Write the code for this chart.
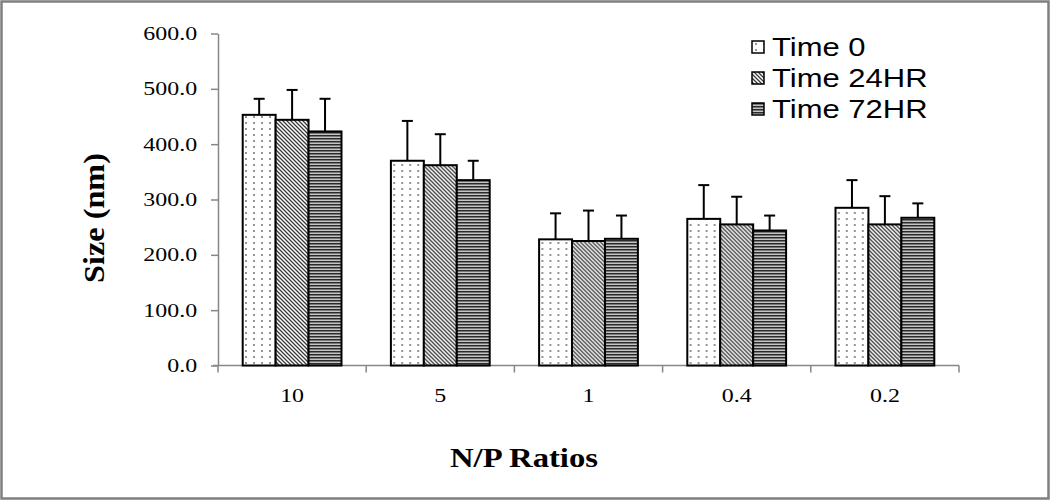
<!DOCTYPE html>
<html>
<head>
<meta charset="utf-8">
<script src="https://cdn.jsdelivr.net/npm/d3@7"></script>
<style>
  body { margin: 0; background: #fff; }
  svg { display: block; }
</style>
</head>
<body>
<script>
// Data
const ratios = ['10', '5', '1', '0.4', '0.2'];
const series = ['Time 0', 'Time 24HR', 'Time 72HR'];
const time0 = [453, 370, 228, 265, 285];
const time24 = [444, 362, 225, 255, 255];
const time72 = [423, 335, 229, 244, 267];
const err0 = [29, 72, 47, 61, 50];
const err24 = [54, 56, 55, 50, 51];
const err72 = [59, 35, 42, 27, 26];
const yTicks = [0, 100, 200, 300, 400, 500, 600];

const means = [time0, time24, time72];
const errs = [err0, err24, err72];
const fills = ['url(#dots)', 'url(#diag)', 'url(#hstripe)'];

const w = 1050;
const h = 500;
const sx = 1.26; // the original picture is stretched sideways
const axisColor = '#878787';

const x0 = d3
  .scaleBand()
  .domain(ratios)
  .range([218, 959]);

const x1 = d3
  .scaleBand()
  .domain(series)
  .range([0, x0.bandwidth()])
  .paddingInner(0)
  .paddingOuter(0.75);

const y = d3
  .scaleLinear()
  .domain([0, 600])
  .range([365.5, 33.5]);

const svg = d3
  .select('body')
  .append('svg')
  .attr('width', w)
  .attr('height', h);

// Fill patterns
const defs = svg.append('defs');

const dots = defs
  .append('pattern')
  .attr('id', 'dots')
  .attr('patternUnits', 'userSpaceOnUse')
  .attr('width', 8)
  .attr('height', 6);
dots.append('rect').attr('width', 8).attr('height', 6).attr('fill', '#fff');
dots
  .append('circle')
  .attr('cx', 4)
  .attr('cy', 3)
  .attr('r', 1)
  .attr('fill', '#707070');

const diag = defs
  .append('pattern')
  .attr('id', 'diag')
  .attr('patternUnits', 'userSpaceOnUse')
  .attr('width', 4)
  .attr('height', 4);
diag.append('rect').attr('width', 4).attr('height', 4).attr('fill', '#fff');
diag
  .append('path')
  .attr('d', 'M-1,-1L5,5M-1,3L1,5M3,-1L5,1')
  .attr('stroke', '#3a3a3a')
  .attr('stroke-width', 1.3);

const hstripe = defs
  .append('pattern')
  .attr('id', 'hstripe')
  .attr('patternUnits', 'userSpaceOnUse')
  .attr('width', 6)
  .attr('height', 3);
hstripe.append('rect').attr('width', 6).attr('height', 3).attr('fill', '#c4c4c4');
hstripe
  .append('rect')
  .attr('y', 0)
  .attr('width', 6)
  .attr('height', 1.5)
  .attr('fill', '#2a2a2a');

// Outer frame
svg
  .append('rect')
  .attr('x', 1.5)
  .attr('y', 1.5)
  .attr('width', w - 3)
  .attr('height', h - 3)
  .attr('fill', 'none')
  .attr('stroke', '#7f7f7f')
  .attr('stroke-width', 2.5);

// Y axis
const yAxis = d3
  .axisLeft(y)
  .tickValues(yTicks)
  .tickFormat(d3.format('.1f'))
  .tickSize(7)
  .tickSizeOuter(0)
  .tickPadding(9.5);

const gy = svg
  .append('g')
  .attr('transform', 'translate(' + x0.range()[0] + ',0)')
  .call(yAxis);
gy.select('.domain').attr('stroke', axisColor).attr('stroke-width', 1.5);
gy.selectAll('.tick line').attr('stroke', axisColor).attr('stroke-width', 1.5);
gy
  .selectAll('.tick text')
  .attr('fill', '#000')
  .attr('font-family', 'Liberation Serif, serif')
  .attr('font-size', 19)
  .attr('transform', 'scale(' + sx + ',1)');

// X axis: line, boundary ticks, centred labels
const gx = svg.append('g').attr('transform', 'translate(0,' + y(0) + ')');
gx
  .append('line')
  .attr('x1', x0.range()[0] - 5)
  .attr('x2', x0.range()[1])
  .attr('stroke', axisColor)
  .attr('stroke-width', 1.5);
gx
  .selectAll('.bound')
  .data(ratios.concat(['end']))
  .enter()
  .append('line')
  .attr('x1', (d, i) => x0.range()[0] + i * x0.step())
  .attr('x2', (d, i) => x0.range()[0] + i * x0.step())
  .attr('y1', 0)
  .attr('y2', 7)
  .attr('stroke', axisColor)
  .attr('stroke-width', 1.5);
gx
  .selectAll('.lab')
  .data(ratios)
  .enter()
  .append('text')
  .attr('transform', d => 'translate(' + (x0(d) + x0.bandwidth() / 2) + ',36) scale(' + sx + ',1)')
  .attr('text-anchor', 'middle')
  .attr('font-family', 'Liberation Serif, serif')
  .attr('font-size', 19)
  .text(d => d);

// Bars
const groups = svg
  .append('g')
  .selectAll('g')
  .data(ratios)
  .enter()
  .append('g')
  .attr('transform', d => 'translate(' + x0(d) + ',0)');

const cells = groups
  .selectAll('g')
  .data((d, i) =>
    series.map((s, j) => ({ s: s, v: means[j][i], e: errs[j][i], fill: fills[j] }))
  )
  .enter()
  .append('g');

// Error bars (upper only), drawn behind the bars
cells
  .append('line')
  .attr('x1', d => x1(d.s) + x1.bandwidth() / 2)
  .attr('x2', d => x1(d.s) + x1.bandwidth() / 2)
  .attr('y1', d => y(d.v))
  .attr('y2', d => y(d.v + d.e))
  .attr('stroke', '#000')
  .attr('stroke-width', 2);
cells
  .append('line')
  .attr('x1', d => x1(d.s) + x1.bandwidth() / 2 - 5.5)
  .attr('x2', d => x1(d.s) + x1.bandwidth() / 2 + 5.5)
  .attr('y1', d => y(d.v + d.e))
  .attr('y2', d => y(d.v + d.e))
  .attr('stroke', '#000')
  .attr('stroke-width', 2);

cells
  .append('rect')
  .attr('x', d => x1(d.s))
  .attr('y', d => y(d.v))
  .attr('width', x1.bandwidth())
  .attr('height', d => y(0) - y(d.v))
  .attr('fill', d => d.fill)
  .attr('stroke', '#000')
  .attr('stroke-width', 2);

// Axis titles
svg
  .append('text')
  .attr('transform', 'translate(104,218) rotate(-90)')
  .attr('text-anchor', 'middle')
  .attr('font-family', 'Liberation Serif, serif')
  .attr('font-weight', 'bold')
  .attr('font-size', 29)
  .attr('textLength', 130)
  .attr('lengthAdjust', 'spacingAndGlyphs')
  .text('Size (nm)');

svg
  .append('text')
  .attr('x', 524)
  .attr('y', 467)
  .attr('text-anchor', 'middle')
  .attr('font-family', 'Liberation Serif, serif')
  .attr('font-weight', 'bold')
  .attr('font-size', 28)
  .attr('textLength', 148)
  .attr('lengthAdjust', 'spacingAndGlyphs')
  .text('N/P Ratios');

// Legend
const legend = svg
  .append('g')
  .selectAll('g')
  .data(series)
  .enter()
  .append('g')
  .attr('transform', (d, i) => 'translate(752,' + (47 + i * 31) + ')');

legend
  .append('rect')
  .attr('x', 0)
  .attr('y', -6)
  .attr('width', 12)
  .attr('height', 12)
  .attr('fill', (d, i) => fills[i])
  .attr('stroke', '#000')
  .attr('stroke-width', 1.5);

legend
  .append('text')
  .attr('transform', 'translate(20,9) scale(1.24,1)')
  .attr('font-family', 'Liberation Sans, Arial, sans-serif')
  .attr('font-size', 25)
  .text(d => d);
</script>
</body>
</html>
